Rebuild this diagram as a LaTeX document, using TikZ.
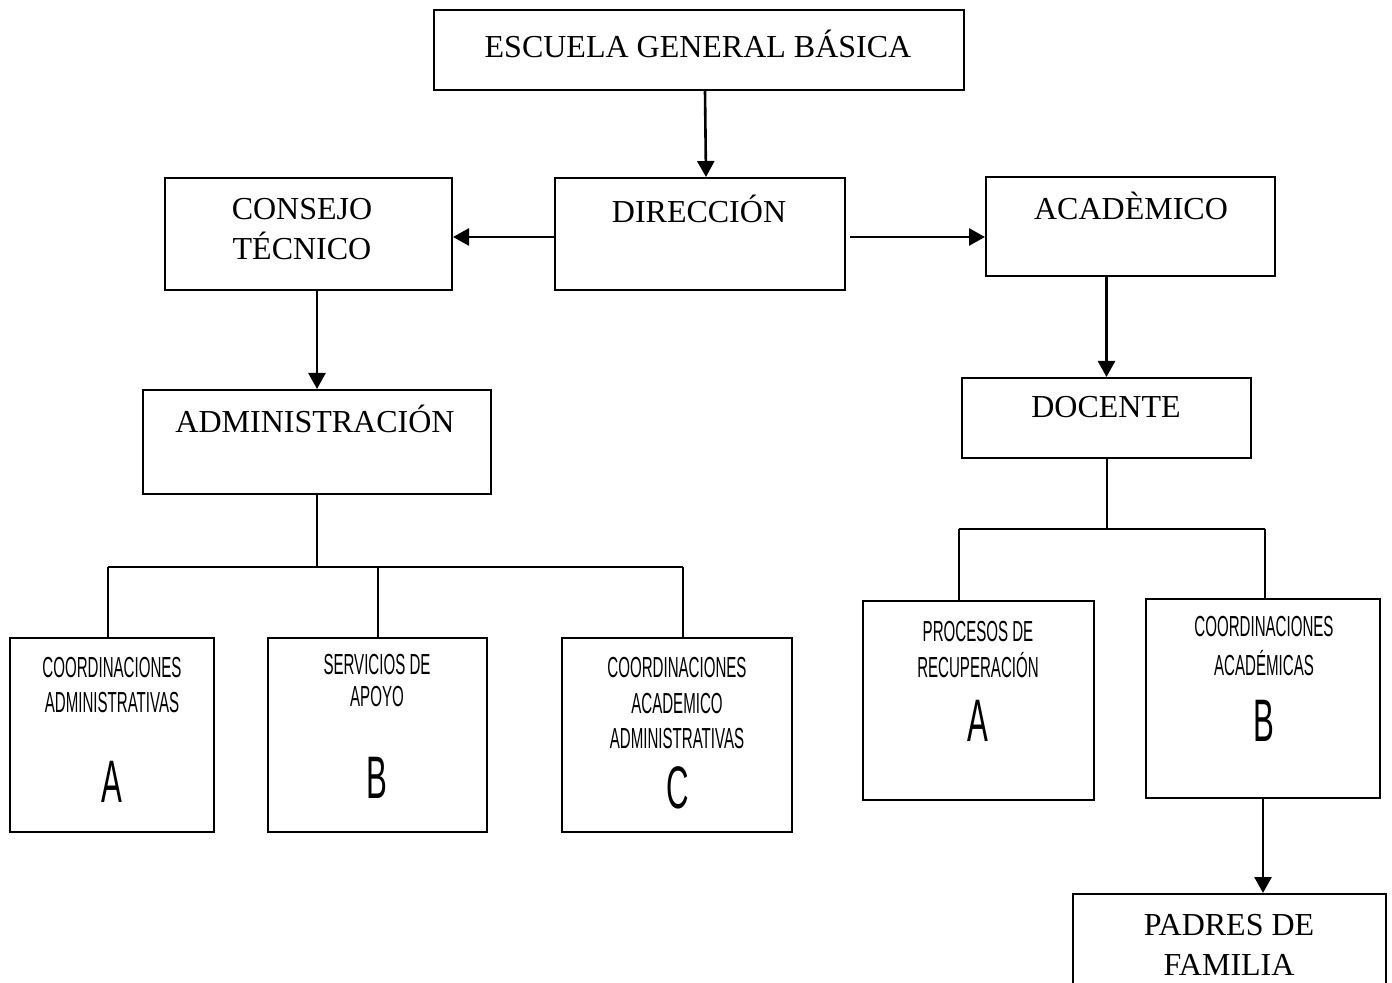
\documentclass[tikz,border=0pt]{standalone}
\usepackage{fontspec}
\setmainfont{Liberation Serif}
\newfontfamily\condfont[FakeStretch=0.52]{Liberation Sans}
\usetikzlibrary{fit,arrows.meta,calc}
\tikzset{
  box/.style={draw, line width=1pt, inner sep=0pt},
  serif/.style={font=\fontsize{16}{20}\selectfont, inner sep=0pt, anchor=base},
  small/.style={font=\condfont\fontsize{14.5}{17.5}\selectfont, inner sep=0pt, anchor=base},
  big/.style={font=\condfont\fontsize{30}{36}\selectfont, inner sep=0pt, anchor=base},
  conn/.style={line width=1pt},
  arr/.style={line width=1.3pt, -{Triangle[length=8pt,width=8.5pt]}},
}
\begin{document}
\begin{tikzpicture}[x=0.5pt,y=-0.5pt]
\useasboundingbox (0,0) rectangle (1392,983);
\clip (0,0) rectangle (1392,983);
% boxes
\node[box, fit={(434,10) (964,90)}] (esc) {};
\node[box, fit={(555,178) (845,290)}] (dir) {};
\node[box, fit={(165,178) (452,290)}] (cons) {};
\node[box, fit={(986,177) (1275,276)}] (acad) {};
\node[box, fit={(143,390) (491,494)}] (adm) {};
\node[box, fit={(962,378) (1251,458)}] (doc) {};
\node[box, fit={(10,638) (214,832)}] (cadm) {};
\node[box, fit={(268,638) (487,832)}] (serv) {};
\node[box, fit={(562,638) (792,832)}] (caa) {};
\node[box, fit={(863,601) (1094,800)}] (proc) {};
\node[box, fit={(1146,599) (1380,798)}] (cacad) {};
\node[box, fit={(1073,894) (1386,1010)}] (pad) {};
% texts
\node[serif] (esc-t) at (698,58) {ESCUELA GENERAL BÁSICA};
\node[serif] (dir-t) at (699,223) {DIRECCIÓN};
\node[serif] (cons-t) at (302,220) {\begin{tabular}[t]{@{}c@{}}CONSEJO\\TÉCNICO\end{tabular}};
\node[serif] (acad-t) at (1131,220) {ACADÈMICO};
\node[serif] (doc-t) at (1106,418) {DOCENTE};
\node[serif] (adm-t) at (315,433) {ADMINISTRACIÓN};
\node[serif] (pad-t) at (1229,935) {\begin{tabular}[t]{@{}c@{}}PADRES DE\\FAMILIA\end{tabular}};
\node[small] (cadm-t) at (112,677) {\begin{tabular}[t]{@{}c@{}}COORDINACIONES\\ADMINISTRATIVAS\end{tabular}};
\node[big] (cadm-l) at (112,802) {A};
\node[small] (serv-t) at (377,675) {\begin{tabular}[t]{@{}c@{}}SERVICIOS DE\\[-1.5pt]APOYO\end{tabular}};
\node[big] (serv-l) at (377,798) {B};
\node[small] (caa-t) at (677,677) {\begin{tabular}[t]{@{}c@{}}COORDINACIONES\\[0.5pt]ACADEMICO\\[0.5pt]ADMINISTRATIVAS\end{tabular}};
\node[big] (caa-l) at (678,808) {C};
\node[small] (proc-t) at (978,641) {\begin{tabular}[t]{@{}c@{}}PROCESOS DE\\[0.5pt]RECUPERACIÓN\end{tabular}};
\node[big] (proc-l) at (978,741) {A};
\node[small] (cacad-t) at (1264,637) {\begin{tabular}[t]{@{}c@{}}COORDINACIONES\\[1.5pt]ACADÉMICAS\end{tabular}};
\node[big] (cacad-l) at (1264,741) {B};
% arrows
\draw[arr] ([xshift=3pt]esc.south) -- ([xshift=3pt]dir.north);
\draw[arr] ([yshift=-1.5pt]dir.west) -- ([yshift=-1.5pt]dir.west -| cons.east);
\draw[arr] ([xshift=2pt,yshift=-1.5pt]dir.east) -- ([yshift=-1.5pt]dir.east -| acad.west);
\draw[arr] (cons.south -| adm.north) -- (adm.north);
\draw[arr] (acad.south -| doc.north) -- (doc.north);
\draw[arr] (cacad.south) -- (cacad.south |- pad.north);
% administration tree
\coordinate (aL) at (108,567);
\coordinate (aM) at (378,567);
\coordinate (aR) at (683,567);
\draw[conn] (adm.south) -- (adm.south |- aL);
\draw[conn] (aL) -- (aR);
\draw[conn] (aL) -- (aL |- cadm.north);
\draw[conn] (aM) -- (aM |- serv.north);
\draw[conn] (aR) -- (aR |- caa.north);
% docente tree
\coordinate (dL) at (959,529);
\coordinate (dR) at (1265,529);
\draw[conn] (doc.south) -- (doc.south |- dL);
\draw[conn] (dL) -- (dR);
\draw[conn] (dL) -- (dL |- proc.north);
\draw[conn] (dR) -- (dR |- cacad.north);
\end{tikzpicture}
\end{document}
